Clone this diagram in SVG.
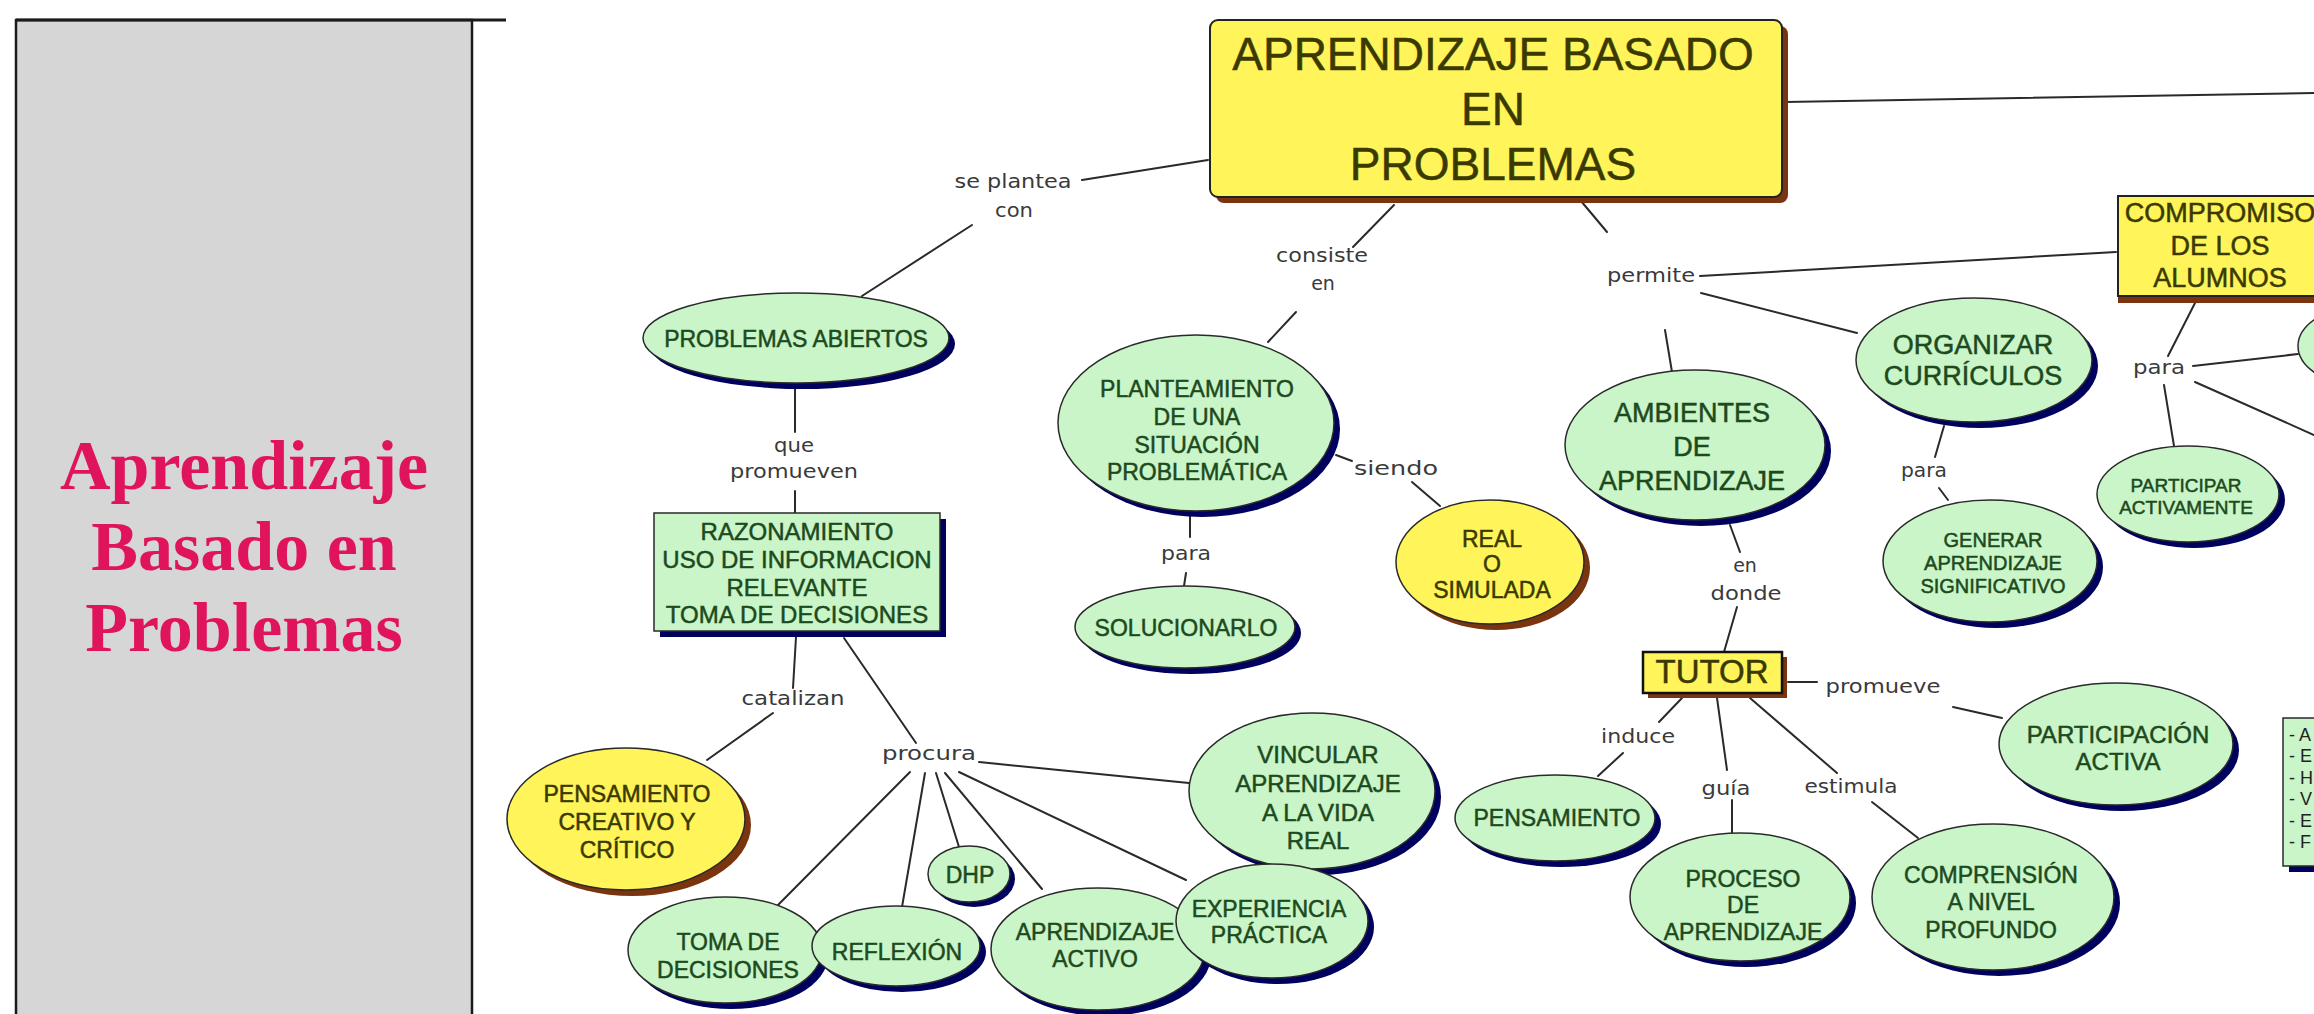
<svg xmlns="http://www.w3.org/2000/svg" width="2314" height="1014" viewBox="0 0 2314 1014">
<style>
.panel{fill:#d6d6d6;stroke:#1a1a1a;stroke-width:2.5}
.title{font-family:"Liberation Serif",serif;font-weight:bold;font-size:70px;fill:#e0145c;text-anchor:middle}
.ln{stroke:#2a2a2a;stroke-width:2;fill:none;stroke-linecap:round}
.lbl{font-family:"DejaVu Sans",sans-serif;font-size:19px;fill:#3a3a3a;text-anchor:middle}
.g{fill:#c9f5c9;stroke:#2a2a2a;stroke-width:1.5}
.gs{fill:#00005e}
.y{fill:#fff45a;stroke:#2a2a2a;stroke-width:1.5}
.ys{fill:#7a3410}
.t{font-family:"Liberation Sans",sans-serif;text-anchor:middle;fill:#1d4a1d;stroke:#1d4a1d;stroke-width:0.5}
.ty{font-family:"Liberation Sans",sans-serif;text-anchor:middle;fill:#3a3a00;stroke:#3a3a00;stroke-width:0.5}
.lg{font-family:"Liberation Sans",sans-serif;font-size:18px;fill:#222222}
</style>
<rect x="0" y="0" width="2314" height="1014" fill="#ffffff"/>

<g id="panel">
<rect class="panel" x="16" y="20" width="456" height="1010"/>
<line x1="16" y1="20" x2="506" y2="20" stroke="#1a1a1a" stroke-width="3"/>
<text class="title" x="244" y="489">Aprendizaje</text>
<text class="title" x="244" y="570">Basado en</text>
<text class="title" x="244" y="651">Problemas</text>
</g>

<g id="connectors">
<line class="ln" x1="1785" y1="102" x2="2314" y2="93"/>
<line class="ln" x1="1082" y1="180" x2="1208" y2="160"/>
<line class="ln" x1="972" y1="225" x2="862" y2="296"/>
<line class="ln" x1="1394" y1="205" x2="1353" y2="247"/>
<line class="ln" x1="1296" y1="312" x2="1268" y2="342"/>
<line class="ln" x1="1581" y1="201" x2="1607" y2="232"/>
<line class="ln" x1="1700" y1="276" x2="2116" y2="252"/>
<line class="ln" x1="1701" y1="293" x2="1857" y2="333"/>
<line class="ln" x1="1665" y1="330" x2="1672" y2="372"/>
<line class="ln" x1="795" y1="386" x2="795" y2="432"/>
<line class="ln" x1="795" y1="491" x2="795" y2="513"/>
<line class="ln" x1="796" y1="637" x2="793" y2="688"/>
<line class="ln" x1="773" y1="713" x2="707" y2="760"/>
<line class="ln" x1="844" y1="638" x2="916" y2="743"/>
<line class="ln" x1="979" y1="762" x2="1189" y2="783"/>
<line class="ln" x1="910" y1="772" x2="778" y2="905"/>
<line class="ln" x1="925" y1="773" x2="902" y2="907"/>
<line class="ln" x1="936" y1="773" x2="959" y2="847"/>
<line class="ln" x1="945" y1="773" x2="1042" y2="889"/>
<line class="ln" x1="959" y1="772" x2="1186" y2="880"/>
<line class="ln" x1="1190" y1="516" x2="1190" y2="537"/>
<line class="ln" x1="1186" y1="573" x2="1184" y2="586"/>
<line class="ln" x1="1336" y1="455" x2="1352" y2="461"/>
<line class="ln" x1="1412" y1="482" x2="1440" y2="506"/>
<line class="ln" x1="1944" y1="426" x2="1935" y2="457"/>
<line class="ln" x1="1939" y1="488" x2="1948" y2="500"/>
<line class="ln" x1="2195" y1="303" x2="2168" y2="356"/>
<line class="ln" x1="2193" y1="366" x2="2298" y2="354"/>
<line class="ln" x1="2195" y1="382" x2="2314" y2="435"/>
<line class="ln" x1="2164" y1="385" x2="2174" y2="446"/>
<line class="ln" x1="1730" y1="525" x2="1740" y2="552"/>
<line class="ln" x1="1737" y1="607" x2="1724" y2="652"/>
<line class="ln" x1="1788" y1="682" x2="1817" y2="682"/>
<line class="ln" x1="1953" y1="707" x2="2002" y2="718"/>
<line class="ln" x1="1682" y1="698" x2="1659" y2="722"/>
<line class="ln" x1="1623" y1="753" x2="1598" y2="776"/>
<line class="ln" x1="1717" y1="698" x2="1727" y2="770"/>
<line class="ln" x1="1732" y1="800" x2="1732" y2="833"/>
<line class="ln" x1="1750" y1="698" x2="1837" y2="773"/>
<line class="ln" x1="1872" y1="802" x2="1918" y2="838"/>
<text class="lbl" x="1013" y="188" textLength="117" lengthAdjust="spacingAndGlyphs">se plantea</text>
<text class="lbl" x="1014" y="217" textLength="38" lengthAdjust="spacingAndGlyphs">con</text>
<text class="lbl" x="1322" y="262" textLength="92" lengthAdjust="spacingAndGlyphs">consiste</text>
<text class="lbl" x="1323" y="290">en</text>
<text class="lbl" x="1651" y="282" textLength="88" lengthAdjust="spacingAndGlyphs">permite</text>
<text class="lbl" x="794" y="452" textLength="40" lengthAdjust="spacingAndGlyphs">que</text>
<text class="lbl" x="794" y="478" textLength="128" lengthAdjust="spacingAndGlyphs">promueven</text>
<text class="lbl" x="1186" y="560" textLength="50" lengthAdjust="spacingAndGlyphs">para</text>
<text class="lbl" x="1396" y="475" textLength="84" lengthAdjust="spacingAndGlyphs">siendo</text>
<text class="lbl" x="1924" y="477" textLength="46" lengthAdjust="spacingAndGlyphs">para</text>
<text class="lbl" x="2159" y="374" textLength="52" lengthAdjust="spacingAndGlyphs">para</text>
<text class="lbl" x="793" y="705" textLength="103" lengthAdjust="spacingAndGlyphs">catalizan</text>
<text class="lbl" x="929" y="760" textLength="94" lengthAdjust="spacingAndGlyphs">procura</text>
<text class="lbl" x="1745" y="572">en</text>
<text class="lbl" x="1746" y="600" textLength="71" lengthAdjust="spacingAndGlyphs">donde</text>
<text class="lbl" x="1883" y="693" textLength="115" lengthAdjust="spacingAndGlyphs">promueve</text>
<text class="lbl" x="1638" y="743" textLength="74" lengthAdjust="spacingAndGlyphs">induce</text>
<text class="lbl" x="1726" y="795" textLength="49" lengthAdjust="spacingAndGlyphs">guía</text>
<text class="lbl" x="1851" y="793" textLength="93" lengthAdjust="spacingAndGlyphs">estimula</text>
</g>

<g id="main">
<rect x="1216" y="26" width="572" height="177" rx="8" class="ys"/>
<rect x="1210" y="20" width="572" height="177" rx="8" fill="#fff45a" stroke="#222" stroke-width="2"/>
<text class="ty" x="1493" y="70" font-size="46">APRENDIZAJE BASADO</text>
<text class="ty" x="1493" y="125" font-size="46">EN</text>
<text class="ty" x="1493" y="180" font-size="46">PROBLEMAS</text>
</g>

<g id="compromiso">
<rect x="2118" y="203" width="220" height="100" class="ys"/>
<rect x="2118" y="196" width="220" height="100" fill="#fff45a" stroke="#222" stroke-width="2"/>
<text class="ty" x="2220" y="222" font-size="27">COMPROMISO</text>
<text class="ty" x="2220" y="255" font-size="27">DE LOS</text>
<text class="ty" x="2220" y="287" font-size="27">ALUMNOS</text>
</g>

<g id="problemas-abiertos">
<ellipse class="gs" cx="802" cy="344" rx="153" ry="45"/>
<ellipse class="g" cx="796" cy="338" rx="153" ry="45"/>
<text class="t" x="796" y="347" font-size="23">PROBLEMAS ABIERTOS</text>
</g>

<g id="razonamiento">
<rect class="gs" x="660" y="519" width="286" height="118"/>
<rect class="g" x="654" y="513" width="286" height="118"/>
<text class="t" x="797" y="540" font-size="24">RAZONAMIENTO</text>
<text class="t" x="797" y="568" font-size="24">USO DE INFORMACION</text>
<text class="t" x="797" y="596" font-size="24">RELEVANTE</text>
<text class="t" x="797" y="623" font-size="24">TOMA DE DECISIONES</text>
</g>

<g id="planteamiento">
<ellipse class="gs" cx="1202" cy="429" rx="138" ry="88"/>
<ellipse class="g" cx="1196" cy="423" rx="138" ry="88"/>
<text class="t" x="1197" y="397" font-size="23">PLANTEAMIENTO</text>
<text class="t" x="1197" y="425" font-size="23">DE UNA</text>
<text class="t" x="1197" y="453" font-size="23">SITUACIÓN</text>
<text class="t" x="1197" y="480" font-size="23">PROBLEMÁTICA</text>
</g>

<g id="solucionarlo">
<ellipse class="gs" cx="1191" cy="633" rx="110" ry="41"/>
<ellipse class="g" cx="1185" cy="627" rx="110" ry="41"/>
<text class="t" x="1186" y="636" font-size="23">SOLUCIONARLO</text>
</g>

<g id="real-simulada">
<ellipse class="ys" cx="1496" cy="568" rx="94" ry="62"/>
<ellipse class="y" cx="1490" cy="562" rx="94" ry="62"/>
<text class="ty" x="1492" y="547" font-size="23">REAL</text>
<text class="ty" x="1492" y="572" font-size="23">O</text>
<text class="ty" x="1492" y="598" font-size="23">SIMULADA</text>
</g>

<g id="ambientes">
<ellipse class="gs" cx="1701" cy="451" rx="130" ry="75"/>
<ellipse class="g" cx="1695" cy="445" rx="130" ry="75"/>
<text class="t" x="1692" y="422" font-size="27">AMBIENTES</text>
<text class="t" x="1692" y="456" font-size="27">DE</text>
<text class="t" x="1692" y="490" font-size="27">APRENDIZAJE</text>
</g>

<g id="organizar">
<ellipse class="gs" cx="1980" cy="366" rx="118" ry="62"/>
<ellipse class="g" cx="1974" cy="360" rx="118" ry="62"/>
<text class="t" x="1973" y="354" font-size="27">ORGANIZAR</text>
<text class="t" x="1973" y="385" font-size="27">CURRÍCULOS</text>
</g>

<g id="generar">
<ellipse class="gs" cx="1996" cy="567" rx="107" ry="61"/>
<ellipse class="g" cx="1990" cy="561" rx="107" ry="61"/>
<text class="t" x="1993" y="547" font-size="20">GENERAR</text>
<text class="t" x="1993" y="570" font-size="20">APRENDIZAJE</text>
<text class="t" x="1993" y="593" font-size="20">SIGNIFICATIVO</text>
</g>

<g id="participar">
<ellipse class="gs" cx="2194" cy="500" rx="91" ry="48"/>
<ellipse class="g" cx="2188" cy="494" rx="91" ry="48"/>
<text class="t" x="2186" y="492" font-size="19">PARTICIPAR</text>
<text class="t" x="2186" y="514" font-size="19">ACTIVAMENTE</text>
</g>

<g id="partial-node">
<ellipse class="gs" cx="2386" cy="352" rx="82" ry="44"/>
<ellipse class="g" cx="2380" cy="346" rx="82" ry="44"/>
</g>

<g id="legend">
<rect class="gs" x="2289" y="724" width="60" height="148"/>
<rect class="g" x="2283" y="718" width="60" height="148"/>
<text class="lg" x="2289" y="741">- A</text>
<text class="lg" x="2289" y="762">- E</text>
<text class="lg" x="2289" y="784">- H</text>
<text class="lg" x="2289" y="805">- V</text>
<text class="lg" x="2289" y="827">- E</text>
<text class="lg" x="2289" y="848">- F</text>
</g>

<g id="pensamiento-creativo">
<ellipse class="ys" cx="632" cy="825" rx="119" ry="71"/>
<ellipse class="y" cx="626" cy="819" rx="119" ry="71"/>
<text class="ty" x="627" y="802" font-size="23">PENSAMIENTO</text>
<text class="ty" x="627" y="830" font-size="23">CREATIVO Y</text>
<text class="ty" x="627" y="858" font-size="23">CRÍTICO</text>
</g>

<g id="toma-decisiones">
<ellipse class="gs" cx="731" cy="956" rx="97" ry="53"/>
<ellipse class="g" cx="725" cy="950" rx="97" ry="53"/>
<text class="t" x="728" y="950" font-size="23">TOMA DE</text>
<text class="t" x="728" y="978" font-size="23">DECISIONES</text>
</g>

<g id="reflexion">
<ellipse class="gs" cx="902" cy="952" rx="84" ry="40"/>
<ellipse class="g" cx="896" cy="946" rx="84" ry="40"/>
<text class="t" x="897" y="960" font-size="23">REFLEXIÓN</text>
</g>

<g id="dhp">
<ellipse class="gs" cx="974" cy="879" rx="41" ry="28"/>
<ellipse class="g" cx="969" cy="874" rx="41" ry="28"/>
<text class="t" x="970" y="883" font-size="23">DHP</text>
</g>

<g id="aprendizaje-activo">
<ellipse class="gs" cx="1104" cy="955" rx="107" ry="61"/>
<ellipse class="g" cx="1098" cy="949" rx="107" ry="61"/>
<text class="t" x="1095" y="940" font-size="23">APRENDIZAJE</text>
<text class="t" x="1095" y="967" font-size="23">ACTIVO</text>
</g>

<g id="vincular">
<ellipse class="gs" cx="1318" cy="797" rx="123" ry="78"/>
<ellipse class="g" cx="1312" cy="791" rx="123" ry="78"/>
<text class="t" x="1318" y="763" font-size="24">VINCULAR</text>
<text class="t" x="1318" y="792" font-size="24">APRENDIZAJE</text>
<text class="t" x="1318" y="821" font-size="24">A LA VIDA</text>
<text class="t" x="1318" y="849" font-size="24">REAL</text>
</g>

<g id="experiencia">
<ellipse class="gs" cx="1278" cy="927" rx="96" ry="57"/>
<ellipse class="g" cx="1272" cy="921" rx="96" ry="57"/>
<text class="t" x="1269" y="917" font-size="23">EXPERIENCIA</text>
<text class="t" x="1269" y="943" font-size="23">PRÁCTICA</text>
</g>

<g id="tutor">
<rect class="ys" x="1648" y="657" width="139" height="41"/>
<rect x="1643" y="652" width="139" height="41" fill="#fff45a" stroke="#111" stroke-width="2.5"/>
<text class="ty" x="1712" y="683" font-size="33">TUTOR</text>
</g>

<g id="pensamiento">
<ellipse class="gs" cx="1561" cy="824" rx="100" ry="43"/>
<ellipse class="g" cx="1555" cy="818" rx="100" ry="43"/>
<text class="t" x="1557" y="826" font-size="23">PENSAMIENTO</text>
</g>

<g id="proceso">
<ellipse class="gs" cx="1746" cy="903" rx="110" ry="64"/>
<ellipse class="g" cx="1740" cy="897" rx="110" ry="64"/>
<text class="t" x="1743" y="887" font-size="23">PROCESO</text>
<text class="t" x="1743" y="913" font-size="23">DE</text>
<text class="t" x="1743" y="940" font-size="23">APRENDIZAJE</text>
</g>

<g id="comprension">
<ellipse class="gs" cx="1999" cy="903" rx="121" ry="73"/>
<ellipse class="g" cx="1993" cy="897" rx="121" ry="73"/>
<text class="t" x="1991" y="883" font-size="23">COMPRENSIÓN</text>
<text class="t" x="1991" y="910" font-size="23">A NIVEL</text>
<text class="t" x="1991" y="938" font-size="23">PROFUNDO</text>
</g>

<g id="participacion">
<ellipse class="gs" cx="2122" cy="750" rx="117" ry="61"/>
<ellipse class="g" cx="2116" cy="744" rx="117" ry="61"/>
<text class="t" x="2118" y="743" font-size="24">PARTICIPACIÓN</text>
<text class="t" x="2118" y="770" font-size="24">ACTIVA</text>
</g>
</svg>
